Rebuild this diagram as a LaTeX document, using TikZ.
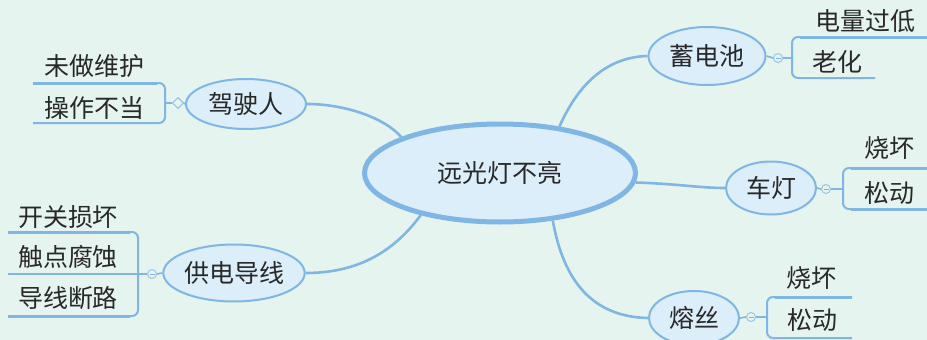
\documentclass[tikz,border=0pt]{standalone}
\usepackage{fontspec}
\newfontfamily\cjk{Noto Sans CJK SC}
\usetikzlibrary{shapes.geometric}
\definecolor{bgc}{RGB}{230,244,239}
\definecolor{linec}{RGB}{128,182,230}
\definecolor{fillc}{RGB}{219,238,250}
\definecolor{textc}{RGB}{40,40,40}
\begin{document}
\begin{tikzpicture}[x=1pt,y=-1pt,
  every node/.style={font=\cjk\fontsize{25}{25}\selectfont, text=textc, inner sep=0pt},
  topic/.style={ellipse, draw=linec, fill=fillc, line width=2pt},
  leaf/.style={},
  conn/.style={draw=linec, line width=2.6pt},
  brk/.style={draw=linec, line width=2pt, rounded corners=6pt},
  topline/.style={draw=linec, line width=3pt},
  uline/.style={draw=linec, line width=1.6pt},
  marker/.style={circle, draw=linec!80, fill=bgc, line width=1pt, minimum size=9pt},
  dmarker/.style={diamond, draw=linec!80, fill=bgc, line width=1pt, minimum size=11pt}]
\fill[bgc] (0,0) rectangle (927,340);
\useasboundingbox (0,0) rectangle (927,340);

% central topic
\node[topic, line width=5pt, minimum width=271pt, minimum height=98pt] (c) at (500,173) {远光灯不亮};

% main topics
\node[topic, minimum width=120pt, minimum height=50pt] (drv) at (246,104) {驾驶人};
\node[topic, minimum width=140pt, minimum height=57pt] (pow) at (234,273) {供电导线};
\node[topic, minimum width=117pt, minimum height=58pt] (bat) at (707,56) {蓄电池};
\node[topic, minimum width=90pt, minimum height=53pt] (car) at (771,188) {车灯};
\node[topic, minimum width=90pt, minimum height=54pt] (fuse) at (694,318) {熔丝};

% connectors from central topic
\draw[conn] (c.160) .. controls (385,118) and (345,104) .. (drv.east);
\draw[conn] (c.208) .. controls (395,250) and (360,273) .. (pow.east);
\draw[conn] (c.38) .. controls (580,80) and (610,57) .. (bat.west);
\draw[conn] (c.356) .. controls (680,184) and (700,188) .. (car.west);
\draw[conn] (c.318) .. controls (565,290) and (600,317) .. (fuse.west);

% ---------- driver group ----------
\node[leaf] (d1) at (95,66) {未做维护};
\node[leaf] (d2) at (95,108) {操作不当};
\coordinate (d1a) at (33,83);
\coordinate (d2a) at (33,123);
\coordinate (dv) at (165,103);
\draw[brk] (d1a) -- (dv |- d1a) -- (dv |- d2a) -- (d2a);
\draw[topline] (d1a) -- ([xshift=-8pt]dv |- d1a);
\node[dmarker] (dm) at (178,103) {};
\draw[uline] (dv) -- (dm.west);
\draw[uline] (dm.east) -- (drv.west);
\node[dmarker] at (dm) {};

% ---------- power group ----------
\node[leaf] (p1) at (68,217) {开关损坏};
\node[leaf] (p2) at (68,257) {触点腐蚀};
\node[leaf] (p3) at (68,298) {导线断路};
\coordinate (p1a) at (8,232);
\coordinate (p2a) at (8,274);
\coordinate (p3a) at (8,316);
\coordinate (pv) at (138,274);
\draw[brk] (p1a) -- (pv |- p1a) -- (pv |- p3a) -- (p3a);
\draw[topline] (p1a) -- ([xshift=-8pt]pv |- p1a);
\draw[topline] (p3a) -- ([xshift=-8pt]pv |- p3a);
\draw[uline] (p2a) -- (pv);
\node[marker] (pm) at (152,274) {};
\draw[uline] (pv) -- (pm.west);
\draw[uline] (pm.east) -- (pow.west);
\draw[linec, line width=0.8pt] ([xshift=-2.5pt]pm.center) -- ([xshift=2.5pt]pm.center);

% ---------- battery group ----------
\node[leaf] (b1) at (865,21) {电量过低};
\node[leaf] (b2) at (837,62) {老化};
\coordinate (b1a) at (927,37);
\coordinate (b2a) at (875,78);
\coordinate (bv) at (792,58);
\draw[brk] (b1a) -- (bv |- b1a) -- (bv |- b2a) -- (b2a);
\draw[topline] (b1a) -- ([xshift=8pt]bv |- b1a);
\node[marker] (bm) at (778,58) {};
\draw[uline] (bat.east) -- (bm.west);
\draw[uline] (bm.east) -- (bv);
\draw[linec, line width=0.8pt] ([xshift=-2.5pt]bm.center) -- ([xshift=2.5pt]bm.center);

% ---------- car light group ----------
\node[leaf] (l1) at (889,148) {烧坏};
\node[leaf] (l2) at (889,193) {松动};
\coordinate (l1a) at (927,168);
\coordinate (l2a) at (927,209);
\coordinate (lv) at (843,189);
\draw[brk] (l1a) -- (lv |- l1a) -- (lv |- l2a) -- (l2a);
\draw[topline] (l1a) -- ([xshift=8pt]lv |- l1a);
\draw[topline] (l2a) -- ([xshift=8pt]lv |- l2a);
\node[marker] (lm) at (826,189) {};
\draw[uline] (car.east) -- (lm.west);
\draw[uline] (lm.east) -- (lv);
\draw[linec, line width=0.8pt] ([xshift=-2.5pt]lm.center) -- ([xshift=2.5pt]lm.center);

% ---------- fuse group ----------
\node[leaf] (f1) at (811,278) {烧坏};
\node[leaf] (f2) at (812,320) {松动};
\coordinate (f1a) at (852,297);
\coordinate (f2a) at (852,338);
\coordinate (fv) at (767,317);
\draw[brk] (f1a) -- (fv |- f1a) -- (fv |- f2a) -- (f2a);
\draw[topline] (f1a) -- ([xshift=8pt]fv |- f1a);
\node[marker] (fm) at (751,317) {};
\draw[uline] (fuse.east) -- (fm.west);
\draw[uline] (fm.east) -- (fv);
\draw[linec, line width=0.8pt] ([xshift=-2.5pt]fm.center) -- ([xshift=2.5pt]fm.center);
\end{tikzpicture}
\end{document}
